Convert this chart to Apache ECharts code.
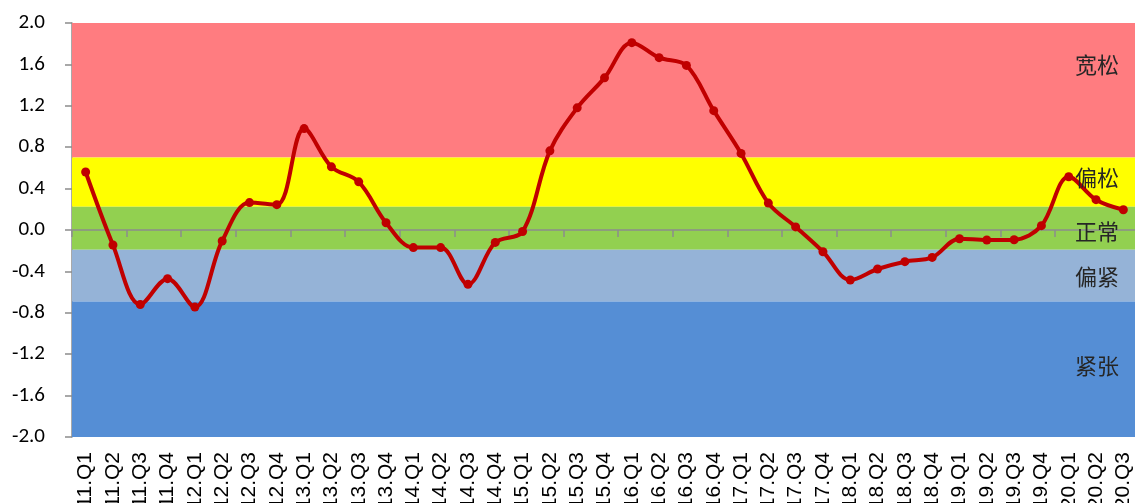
<!DOCTYPE html>
<html>
<head>
<meta charset="utf-8">
<script src="https://cdn.jsdelivr.net/npm/echarts@6/dist/echarts.min.js"></script>
<style>
html,body{margin:0;padding:0;background:#fff;}
#chart{width:1135px;height:503px;}
</style>
</head>
<body>
<div id="chart"></div>
<script>
const categories = ['11.Q1','11.Q2','11.Q3','11.Q4','12.Q1','12.Q2','12.Q3','12.Q4','13.Q1','13.Q2','13.Q3','13.Q4','14.Q1','14.Q2','14.Q3','14.Q4','15.Q1','15.Q2','15.Q3','15.Q4','16.Q1','16.Q2','16.Q3','16.Q4','17.Q1','17.Q2','17.Q3','17.Q4','18.Q1','18.Q2','18.Q3','18.Q4','19.Q1','19.Q2','19.Q3','19.Q4','20.Q1','20.Q2','20.Q3'];
const indexValues = [0.56,-0.145,-0.72,-0.47,-0.745,-0.106,0.265,0.245,0.98,0.61,0.465,0.07,-0.17,-0.17,-0.525,-0.12,-0.015,0.765,1.18,1.47,1.81,1.665,1.59,1.153,0.74,0.26,0.03,-0.21,-0.483,-0.377,-0.306,-0.265,-0.084,-0.097,-0.094,0.042,0.515,0.293,0.196];
const bandNames = ['宽松','偏松','正常','偏紧','紧张'];
const bandLower = [0.7, 0.225, -0.19, -0.69, -2.0];
const bandUpper = [2.0, 0.7, 0.225, -0.19, -0.69];
const bandColors = ['#FF7C80','#FFFF00','#92D050','#95B3D7','#558ED5'];
const bandLabelY = [68, 181, 235, 280, 369];
const yTicks = [-2.0,-1.6,-1.2,-0.8,-0.4,0.0,0.4,0.8,1.2,1.6,2.0];

const chart = echarts.init(document.getElementById('chart'));
const areas = bandNames.map((n,i)=>[
  {yAxis: bandLower[i], itemStyle:{color: bandColors[i], opacity:1}},
  {yAxis: bandUpper[i]}
]);
chart.setOption({
  animation:false,
  grid:{left:72, top:23, height:414, width:1065, containLabel:false, outerBoundsMode:'none'},
  xAxis:[{
    type:'category', data:categories, boundaryGap:true,
    axisLine:{onZero:true, lineStyle:{color:'#8C8C8C', width:1.5}},
    axisTick:{show:true, length:7, lineStyle:{color:'#8C8C8C', width:1.5}},
    axisLabel:{show:false}, z:5
  },{
    type:'category', data:categories, position:'bottom', boundaryGap:true,
    axisLine:{show:false, onZero:false}, axisTick:{show:false},
    axisLabel:{rotate:90, margin:15, fontSize:21, color:'#000', fontFamily:'Liberation Sans, Arial', interval:0}
  }],
  yAxis:{
    type:'value', min:yTicks[0], max:yTicks[yTicks.length-1], interval:0.4,
    axisLine:{show:true, lineStyle:{color:'#8C8C8C', width:1.5}},
    axisTick:{show:true, length:7, lineStyle:{color:'#8C8C8C', width:1.5}},
    splitLine:{show:false},
    axisLabel:{margin:27, fontSize:21, color:'#000', fontFamily:'Carlito, Lato, sans-serif', formatter:v=>v.toFixed(1)}
  },
  series:[{
    type:'line', data:[], silent:true,
    markArea:{silent:true, data:areas}
  },{
    type:'line', data:indexValues, smooth:0.35, z:10,
    symbol:'circle', symbolSize:9,
    lineStyle:{color:'#C00000', width:4},
    itemStyle:{color:'#C00000'}
  }],
  graphic: bandNames.map((n,i)=>({
    type:'text', left:1075, top:bandLabelY[i]-14, z:20,
    style:{text:n, fontSize:22, fill:'#262626', fontFamily:'Noto Sans CJK SC'}
  }))
});
</script>
</body>
</html>
